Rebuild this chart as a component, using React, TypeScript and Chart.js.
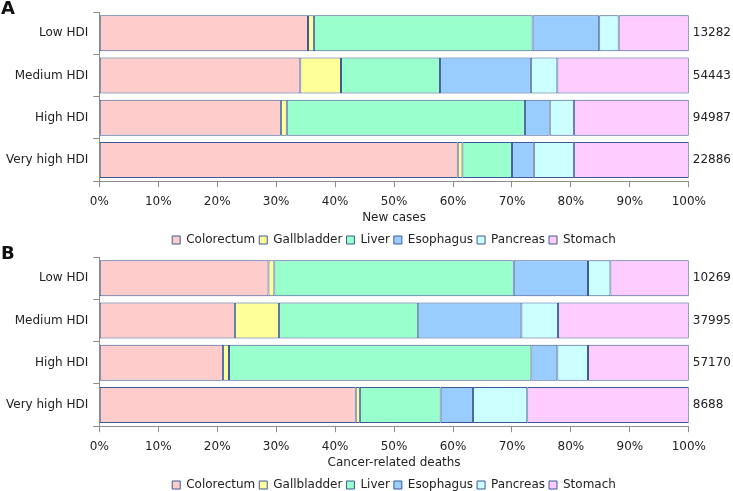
import React, { useEffect, useRef } from "react";
import { Chart, registerables } from "chart.js";

Chart.register(...registerables);

const categories = ["Low HDI", "Medium HDI", "High HDI", "Very high HDI"];
const seriesNames = ["Colorectum", "Gallbladder", "Liver", "Esophagus", "Pancreas", "Stomach"];
const seriesColors = ["#ffcccc", "#ffff99", "#99ffcc", "#99ccff", "#ccffff", "#ffccff"];

// Panel A: new cases (% share per HDI group)
const casesColorectum = [35.4, 34.1, 30.8, 60.8];
const casesGallbladder = [1.0, 6.9, 1.0, 0.8];
const casesLiver = [37.1, 16.8, 40.4, 8.4];
const casesEsophagus = [11.3, 15.4, 4.2, 3.7];
const casesPancreas = [3.3, 4.5, 4.1, 6.8];
const casesStomach = [11.9, 22.3, 19.5, 19.5];
const casesTotals = ["13282", "54443", "94987", "22886"];

// Panel B: cancer-related deaths (% share per HDI group)
const deathsColorectum = [28.7, 23.0, 21.0, 43.5];
const deathsGallbladder = [1.0, 7.5, 1.0, 0.7];
const deathsLiver = [40.6, 23.6, 51.3, 13.7];
const deathsEsophagus = [12.6, 17.5, 4.4, 5.5];
const deathsPancreas = [3.8, 6.2, 5.2, 9.2];
const deathsStomach = [13.3, 22.2, 17.1, 27.4];
const deathsTotals = ["10269", "37995", "57170", "8688"];

const xTicks = [0, 10, 20, 30, 40, 50, 60, 70, 80, 90, 100];

const FONT = "'DejaVu Sans', Verdana, sans-serif";
const TEXT = "#222222";
const BORDER = "#3b5a96";
const AXIS = "#8c8c8c";
const CANVAS_H = 256;

function Panel(props: { letter: string; top: number; title: string; series: number[][]; totals: string[] }) {
  const ref = useRef<HTMLCanvasElement | null>(null);
  useEffect(() => {
    if (!ref.current) return;
    const chart = new Chart(ref.current, {
      type: "bar",
      data: {
        labels: categories,
        datasets: props.series.map((vals, i) => ({
          label: seriesNames[i],
          data: vals,
          backgroundColor: seriesColors[i],
          borderColor: BORDER,
          borderWidth: 1,
          borderSkipped: false,
          barPercentage: 0.85,
          categoryPercentage: 1,
        })),
      },
      options: {
        indexAxis: "y",
        responsive: false,
        animation: false,
        devicePixelRatio: 1,
        layout: { padding: { top: 11, left: 1, right: -2, bottom: 0 } },
        plugins: {
          tooltip: { enabled: false },
          legend: {
            position: "bottom",
            fullSize: false,
            labels: {
              font: { family: FONT, size: 12 },
              color: TEXT,
              boxWidth: 8,
              boxHeight: 8,
              padding: 4,
              generateLabels: (c: any) =>
                c.data.datasets.map((d: any, i: number) => ({
                  text: d.label,
                  fillStyle: d.backgroundColor,
                  strokeStyle: BORDER,
                  lineWidth: 1,
                  fontColor: TEXT,
                  datasetIndex: i,
                  hidden: false,
                })),
            },
          },
        },
        scales: {
          x: {
            stacked: true,
            min: 0,
            max: 100,
            afterBuildTicks: (s: any) => {
              s.ticks = xTicks.map((v) => ({ value: v }));
            },
            ticks: {
              font: { family: FONT, size: 12 },
              color: TEXT,
              padding: 7,
              callback: (v: any) => v + "%",
            },
            grid: { drawOnChartArea: false, tickLength: 6, color: AXIS },
            border: { color: AXIS },
            title: {
              display: true,
              text: props.title,
              font: { family: FONT, size: 12 },
              color: TEXT,
              padding: { top: -5, bottom: 5 },
            },
          },
          y: {
            stacked: true,
            position: "left",
            grid: { drawOnChartArea: false, offset: true, tickLength: 6, color: AXIS },
            border: { color: AXIS },
            ticks: { font: { family: FONT, size: 12 }, color: TEXT, padding: 5 },
          },
          y2: {
            type: "category",
            position: "right",
            labels: props.totals,
            offset: true,
            grid: { display: false, drawTicks: false },
            border: { display: false },
            ticks: { font: { family: FONT, size: 12 }, color: TEXT, padding: 4 },
          },
        },
      } as any,
    });
    return () => chart.destroy();
  }, []);
  return (
    <div style={{ position: "absolute", left: 0, top: props.top, width: 733, height: CANVAS_H }}>
      <canvas ref={ref} width={733} height={CANVAS_H} style={{ display: "block" }} />
      <div
        style={{
          position: "absolute",
          left: 1,
          top: -3,
          fontFamily: FONT,
          fontWeight: "bold",
          fontSize: 18,
          color: "#111",
        }}
      >
        {props.letter}
      </div>
    </div>
  );
}

export default function App() {
  return (
    <div
      style={{
        position: "absolute",
        left: 0,
        top: 0,
        width: 733,
        height: 491,
        overflow: "hidden",
        background: "#fff",
      }}
    >
      <Panel
        letter="A"
        top={0}
        title="New cases"
        series={[casesColorectum, casesGallbladder, casesLiver, casesEsophagus, casesPancreas, casesStomach]}
        totals={casesTotals}
      />
      <Panel
        letter="B"
        top={245}
        title="Cancer-related deaths"
        series={[deathsColorectum, deathsGallbladder, deathsLiver, deathsEsophagus, deathsPancreas, deathsStomach]}
        totals={deathsTotals}
      />
    </div>
  );
}
